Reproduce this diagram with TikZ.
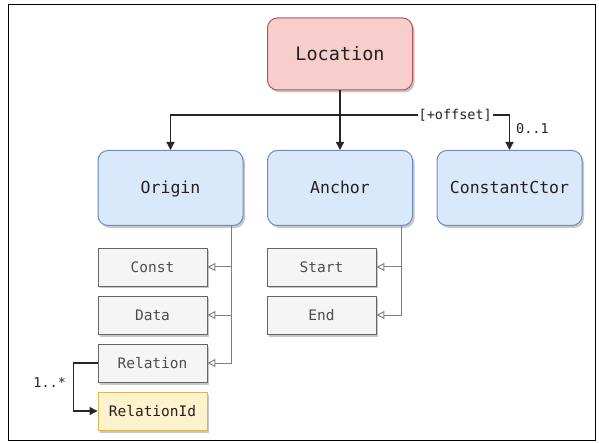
\documentclass[tikz,border=0pt]{standalone}
\usepackage{fontspec}
\setmonofont{DejaVu Sans Mono}
\usetikzlibrary{arrows.meta,shadows}
\definecolor{redfill}{HTML}{F8CECC}
\definecolor{redline}{HTML}{B85450}
\definecolor{bluefill}{HTML}{DAE8FC}
\definecolor{blueline}{HTML}{6C8EBF}
\definecolor{grayfill}{HTML}{F5F5F5}
\definecolor{grayline}{HTML}{666666}
\definecolor{yelfill}{HTML}{FFF2CC}
\definecolor{yelline}{HTML}{D6B656}
\definecolor{txt}{HTML}{222222}
\tikzset{
  shad/.style={drop shadow={shadow xshift=2pt,shadow yshift=-2.5pt,fill=black,opacity=0.22}},
  bigbox/.style={draw, line width=1pt, rounded corners=10pt, minimum width=145pt, minimum height=75pt, inner sep=0pt, text height=12pt, text depth=0.5pt, font=\ttfamily\fontsize{16.5}{20}\selectfont, text=txt, shad},
  redbox/.style={bigbox, fill=redfill, draw=redline, minimum height=72pt, text height=13.5pt, text depth=0.5pt, font=\ttfamily\fontsize{18.5}{22}\selectfont},
  bluebox/.style={bigbox, fill=bluefill, draw=blueline},
  smallbox/.style={draw=grayline, fill=grayfill, line width=0.9pt, minimum width=109pt, minimum height=38pt, inner sep=0pt, text height=10.5pt, text depth=0pt, font=\ttfamily\fontsize{14.5}{18}\selectfont, text=txt!80, shad},
  yelbox/.style={smallbox, fill=yelfill, draw=yelline, text=txt},
  arr/.style={draw=black!85, line width=1.3pt, -{Triangle[length=8pt,width=8pt]}},
  inh/.style={draw=black!50, line width=1pt, -{Triangle[open,length=8pt,width=8pt]}},
  lbl/.style={font=\ttfamily\fontsize{13.5}{16}\selectfont, text=txt, inner sep=1pt}
}
\begin{document}
\begin{tikzpicture}[x=1pt,y=-1pt]
\useasboundingbox (0,0) rectangle (599,443);
\draw[black, line width=0.9pt] (8,4) rectangle (595,440);

\node[redbox] (loc) at (340,54) {Location};
\node[bluebox] (ori) at (170.5,188) {Origin};
\node[bluebox] (anc) at (340,188) {Anchor};
\node[bluebox] (cc) at (509.5,188) {ConstantCtor};

\node[smallbox] (const) at (152.5,267) {Const};
\node[smallbox] (data) at (152.5,315) {Data};
\node[smallbox] (rel) at (152.5,363) {Relation};
\node[yelbox] (rid) at (152.5,411) {RelationId};
\node[smallbox] (start) at (321.5,267) {Start};
\node[smallbox] (end) at (321.5,315) {End};

\coordinate (j) at (340,115);
\draw[arr] (loc.south) -- (anc.north);
\draw[arr] (j) -| (ori.north);
\draw[arr] (j) -- node[lbl, pos=0.68, fill=white] {[+offset]} (j -| cc.north)
  -- node[lbl, pos=0.4, right=5pt] {0..1} (cc.north);

\coordinate (ot) at ([xshift=-12pt]ori.south east);
\draw[inh] (ot) |- (const.east);
\draw[inh] (ot) |- (data.east);
\draw[inh] (ot) |- (rel.east);

\coordinate (at) at ([xshift=-12pt]anc.south east);
\draw[inh] (at) |- (start.east);
\draw[inh] (at) |- (end.east);

\draw[arr] (rel.west) -- ++(-24,0) |- node[lbl, pos=0.2, left=6pt] {1..*} (rid.west);
\end{tikzpicture}
\end{document}
